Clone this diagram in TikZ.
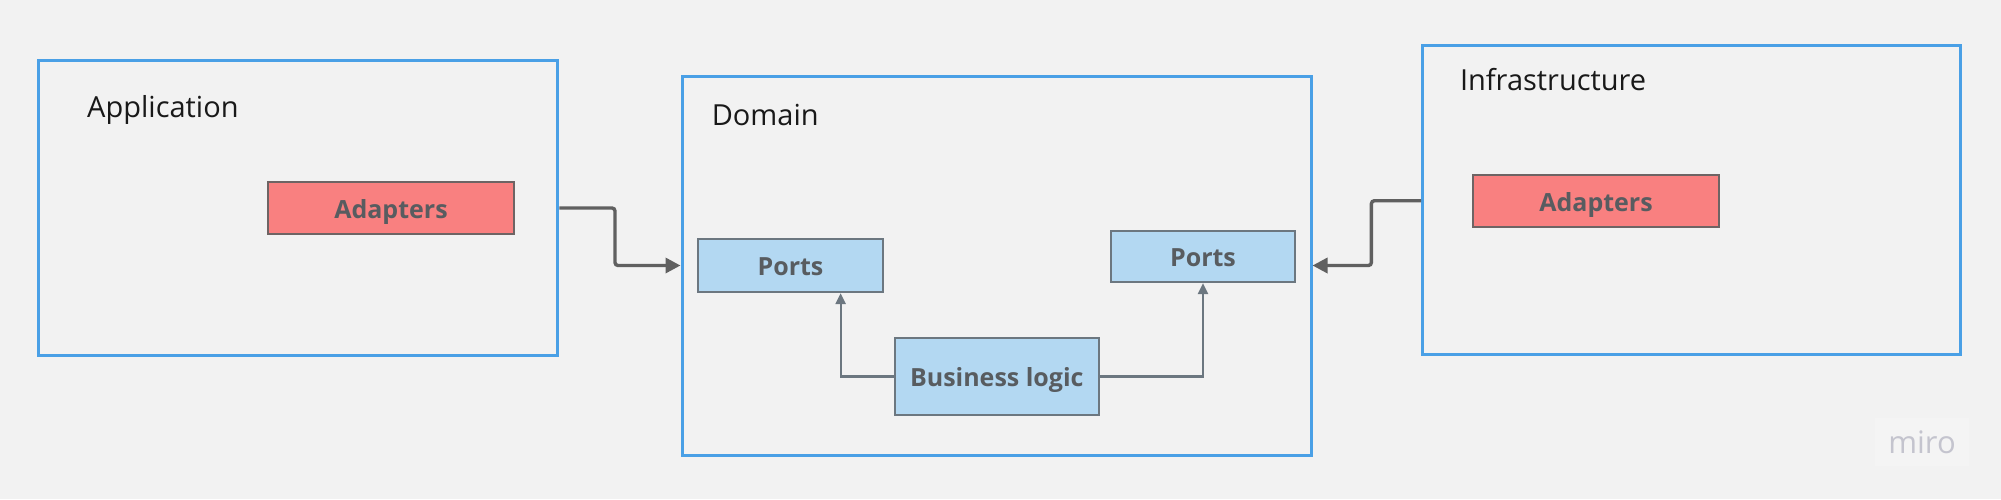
\documentclass[tikz,border=0pt]{standalone}
\usepackage{fontspec}
\setmainfont{Open Sans}
\usetikzlibrary{arrows.meta,calc}
\definecolor{bg}{HTML}{F2F2F2}
\definecolor{frameblue}{HTML}{4AA0E6}
\definecolor{adfill}{HTML}{F98080}
\definecolor{adborder}{HTML}{6E6464}
\definecolor{portfill}{HTML}{B3D8F2}
\definecolor{portborder}{HTML}{6C7780}
\definecolor{boxtext}{HTML}{585C60}
\definecolor{arrowgray}{HTML}{606060}
\definecolor{mirotext}{HTML}{C4C4CE}
\definecolor{mirofill}{HTML}{F4F4F4}
\tikzset{
  frame/.style={draw=frameblue, line width=3pt, fill=none, inner sep=0pt},
  framelabel/.style={anchor=base west, inner sep=0pt, font=\fontsize{29}{34}\selectfont, text=black!90},
  adapterbox/.style={draw=adborder, fill=adfill, line width=2.2pt, inner sep=0pt,
    text height=20.6pt, text depth=0pt,
    font=\fontsize{25}{30}\selectfont\bfseries, text=boxtext},
  portbox/.style={draw=portborder, fill=portfill, line width=2.2pt, inner sep=0pt,
    text height=20.6pt, text depth=0pt,
    font=\fontsize{25}{30}\selectfont\bfseries, text=boxtext},
  bigarrow/.style={draw=arrowgray, line width=3.4pt, rounded corners=3pt,
    -{Triangle[length=15pt,width=15pt]}},
  smallarrow/.style={draw=portborder, line width=2.2pt,
    -{Triangle[length=11pt,width=10pt]}}
}
\begin{document}
\begin{tikzpicture}[x=1pt,y=-1pt]
\useasboundingbox[fill=bg] (0,0) rectangle (2001,499);
% frames
\node[frame, minimum width=519pt, minimum height=295pt] (app) at (298.4,207.5) {};
\node[frame, minimum width=629pt, minimum height=379pt] (dom) at (996.5,265.5) {};
\node[frame, minimum width=538pt, minimum height=309pt] (infra) at (1691.7,200.4) {};
% frame labels
\node[framelabel] (appl) at (87,117) {Application};
\node[framelabel] (doml) at (711.6,125) {Domain};
\node[framelabel] (infral) at (1459.8,90) {Infrastructure};
% inner boxes
\node[adapterbox, minimum width=246pt, minimum height=52pt] (adL) at (391,208) {Adapters};
\node[adapterbox, minimum width=246pt, minimum height=52pt] (adR) at (1596,200.7) {Adapters};
\node[portbox, minimum width=185pt, minimum height=53pt] (portL) at (790.5,265.5) {Ports};
\node[portbox, minimum width=184pt, minimum height=51pt] (portR) at (1203,256.5) {Ports};
\node[portbox, minimum width=204pt, minimum height=77pt] (bl) at (996.8,376.5) {Business logic};
% junction x positions
\coordinate (j1) at (615,0);
\coordinate (j2) at (1371.4,0);
\coordinate (j3) at (840.6,0);
% connectors
\draw[bigarrow] (app.east |- adL.center) -| (j1 |- portL.center) -- (dom.west |- portL.center);
\draw[bigarrow] (infra.west |- adR.center) -| (j2 |- portL.center) -- (dom.east |- portL.center);
\draw[smallarrow] (bl.west) -| (j3 |- portL.south);
\draw[smallarrow] (bl.east) -| (portR.south);
% watermark
\node[fill=mirofill, inner sep=0pt, minimum width=94pt, minimum height=48pt,
      font=\fontsize{31}{36}\selectfont, text=mirotext] (miro) at (1922,442) {miro};
\end{tikzpicture}
\end{document}
